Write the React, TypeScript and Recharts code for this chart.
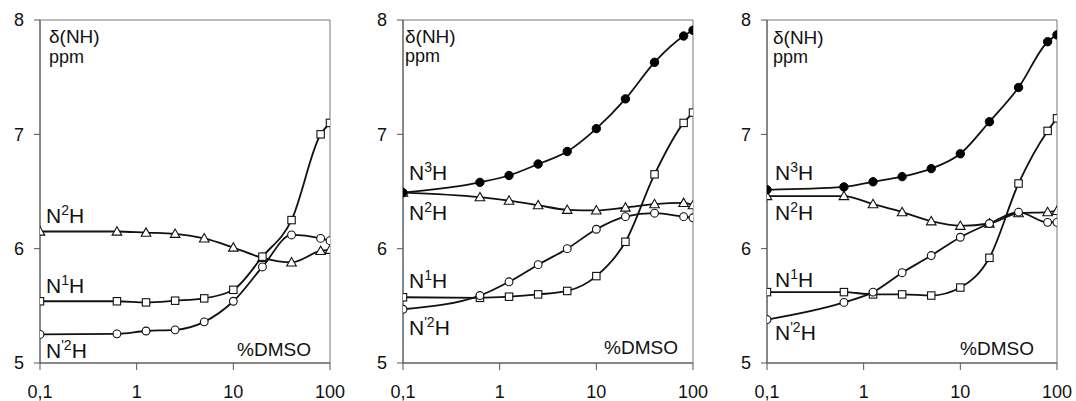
import React from 'react';
import { LineChart, Line, XAxis, YAxis, ReferenceArea } from 'recharts';

// % DMSO (log axis)
const dmso = [0.1, 0.625, 1.25, 2.5, 5, 10, 20, 40, 80, 100];

// panel 1
const p1N2H = [6.15, 6.15, 6.14, 6.13, 6.09, 6.01, 5.92, 5.88, 5.98, 5.99];
const p1N1H = [5.54, 5.54, 5.53, 5.545, 5.565, 5.64, 5.93, 6.25, 7.0, 7.1];
const p1N2pH = [5.25, 5.255, 5.28, 5.29, 5.36, 5.54, 5.84, 6.12, 6.09, 6.07];

// panel 2
const p2N3H = [6.49, 6.58, 6.64, 6.74, 6.85, 7.05, 7.31, 7.63, 7.86, 7.91];
const p2N2H = [6.49, 6.45, 6.42, 6.38, 6.34, 6.335, 6.36, 6.39, 6.4, 6.38];
const p2N1H = [5.575, 5.57, 5.58, 5.6, 5.63, 5.76, 6.06, 6.65, 7.1, 7.19];
const p2N2pH = [5.47, 5.59, 5.71, 5.86, 6.0, 6.17, 6.28, 6.31, 6.28, 6.27];

// panel 3
const p3N3H = [6.515, 6.54, 6.585, 6.63, 6.7, 6.83, 7.11, 7.41, 7.81, 7.87];
const p3N2H = [6.46, 6.46, 6.39, 6.32, 6.24, 6.2, 6.22, 6.31, 6.32, 6.33];
const p3N1H = [5.62, 5.62, 5.6, 5.6, 5.59, 5.66, 5.92, 6.57, 7.03, 7.14];
const p3N2pH = [5.38, 5.53, 5.62, 5.79, 5.94, 6.1, 6.22, 6.32, 6.23, 6.23];

const xTicks = [0.1, 1, 10, 100];
const yTicks = [5, 6, 7, 8];

const FONT = "Arial, 'Liberation Sans', sans-serif";

const build = (n3: number[] | null, n2: number[], n1: number[], n2p: number[]) =>
  dmso.map((x, i) => ({
    x,
    n3: n3 ? n3[i] : undefined,
    n2: n2[i],
    n1: n1[i],
    n2p: n2p[i],
  }));

const Tri = (props: any) => {
  const { cx, cy, index } = props;
  if (cx == null || cy == null) return <g key={index} />;
  return (
    <polygon
      key={index}
      points={`${cx},${cy - 4.8} ${cx - 4.8},${cy + 3.6} ${cx + 4.8},${cy + 3.6}`}
      fill="#fff"
      stroke="#111"
      strokeWidth={1.1}
    />
  );
};

const Sq = (props: any) => {
  const { cx, cy, index } = props;
  if (cx == null || cy == null) return <g key={index} />;
  return <rect key={index} x={cx - 3.7} y={cy - 3.7} width={7.4} height={7.4} fill="#fff" stroke="#111" strokeWidth={1.1} />;
};

const OpenC = (props: any) => {
  const { cx, cy, index } = props;
  if (cx == null || cy == null) return <g key={index} />;
  return <circle key={index} cx={cx} cy={cy} r={3.9} fill="#fff" stroke="#111" strokeWidth={1.1} />;
};

const FillC = (props: any) => {
  const { cx, cy, index } = props;
  if (cx == null || cy == null) return <g key={index} />;
  return <circle key={index} cx={cx} cy={cy} r={4.2} fill="#000" stroke="#000" strokeWidth={1} />;
};

interface Lbl {
  x: number;
  y: number;
  main: string;
  sup?: string;
  tail?: string;
  anchor?: 'start' | 'end';
  size?: number;
}

const Panel = ({ left, data, hasN3, labels }: { left: number; data: any[]; hasN3: boolean; labels: Lbl[] }) => (
  <div style={{ position: 'absolute', left, top: 0, width: 345, height: 401 }}>
    <LineChart width={345} height={401} data={data} margin={{ top: 20, right: 15, left: 0, bottom: 8 }}>
      <XAxis
        dataKey="x"
        type="number"
        scale="log"
        domain={[0.1, 100]}
        ticks={xTicks}
        allowDataOverflow
        height={30}
        tickSize={7}
        tickMargin={15}
        stroke="#555"
        tick={{ fill: '#111', fontSize: 18, fontFamily: FONT }}
        tickFormatter={(v: number) => String(v).replace('.', ',')}
      />
      <YAxis
        type="number"
        domain={[5, 8]}
        ticks={yTicks}
        width={40}
        tickSize={6}
        tickMargin={10}
        stroke="#555"
        tick={{ fill: '#111', fontSize: 18, fontFamily: FONT }}
      />
      <ReferenceArea x1={0.1} x2={100} y1={5} y2={8} fill="none" stroke="#777" strokeWidth={1} />
      <Line dataKey="n2" type="monotone" stroke="#111" strokeWidth={1.8} dot={Tri} isAnimationActive={false} />
      <Line dataKey="n1" type="monotone" stroke="#111" strokeWidth={1.8} dot={Sq} isAnimationActive={false} />
      <Line dataKey="n2p" type="monotone" stroke="#111" strokeWidth={1.8} dot={OpenC} isAnimationActive={false} />
      {hasN3 && (
        <Line dataKey="n3" type="monotone" stroke="#111" strokeWidth={1.8} dot={FillC} isAnimationActive={false} />
      )}
    </LineChart>
    <svg width={345} height={401} style={{ position: 'absolute', left: 0, top: 0, pointerEvents: 'none' }}>
      {labels.map((l, i) => (
        <text
          key={i}
          x={l.x}
          y={l.y}
          textAnchor={l.anchor || 'start'}
          fontFamily={FONT}
          fontSize={l.size || 21}
          fill="#111"
        >
          {l.main}
          {l.sup && (
            <tspan dy={-8} fontSize={14}>
              {l.sup}
            </tspan>
          )}
          {l.tail && <tspan dy={l.sup ? 8 : 0}>{l.tail}</tspan>}
        </text>
      ))}
    </svg>
  </div>
);

const labels1: Lbl[] = [
  { x: 49, y: 43, main: 'δ(NH)', size: 19 },
  { x: 49, y: 63, main: 'ppm', size: 18 },
  { x: 46, y: 223, main: 'N', sup: '2', tail: 'H' },
  { x: 46, y: 293, main: 'N', sup: '1', tail: 'H' },
  { x: 46, y: 358, main: 'N', sup: "'2", tail: 'H' },
  { x: 311, y: 356, main: '%DMSO', anchor: 'end', size: 19 },
];

const labels2: Lbl[] = [
  { x: 42, y: 43, main: 'δ(NH)', size: 19 },
  { x: 42, y: 62, main: 'ppm', size: 18 },
  { x: 46, y: 180, main: 'N', sup: '3', tail: 'H' },
  { x: 46, y: 220, main: 'N', sup: '2', tail: 'H' },
  { x: 46, y: 288, main: 'N', sup: '1', tail: 'H' },
  { x: 46, y: 335, main: 'N', sup: "'2", tail: 'H' },
  { x: 315, y: 354, main: '%DMSO', anchor: 'end', size: 19 },
];

const labels3: Lbl[] = [
  { x: 46, y: 44, main: 'δ(NH)', size: 19 },
  { x: 46, y: 63, main: 'ppm', size: 18 },
  { x: 48, y: 180, main: 'N', sup: '3', tail: 'H' },
  { x: 48, y: 220, main: 'N', sup: '2', tail: 'H' },
  { x: 48, y: 287, main: 'N', sup: '1', tail: 'H' },
  { x: 48, y: 340, main: 'N', sup: "'2", tail: 'H' },
  { x: 307, y: 355, main: '%DMSO', anchor: 'end', size: 19 },
];

export default function App() {
  return (
    <div style={{ position: 'absolute', left: 0, top: 0, width: 1076, height: 401, background: '#fff' }}>
      <Panel left={0} data={build(null, p1N2H, p1N1H, p1N2pH)} hasN3={false} labels={labels1} />
      <Panel left={363} data={build(p2N3H, p2N2H, p2N1H, p2N2pH)} hasN3 labels={labels2} />
      <Panel left={727} data={build(p3N3H, p3N2H, p3N1H, p3N2pH)} hasN3 labels={labels3} />
    </div>
  );
}
